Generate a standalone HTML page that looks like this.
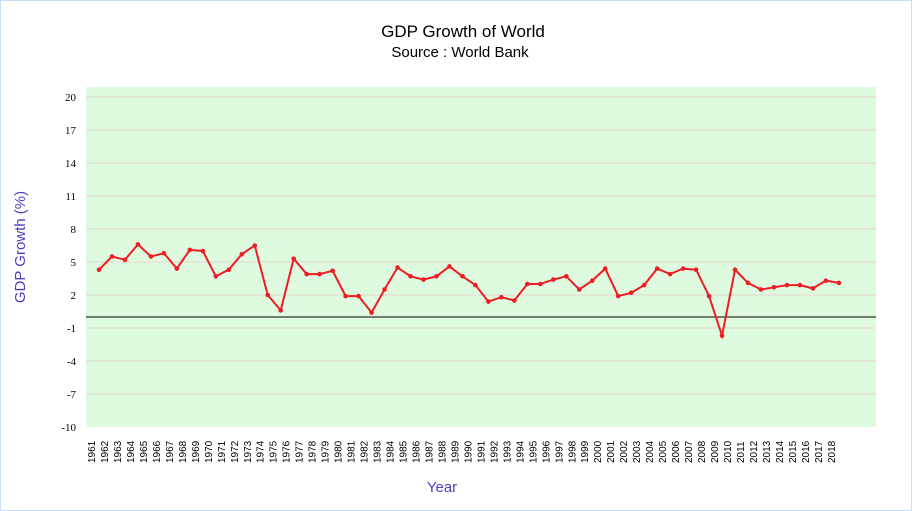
<!DOCTYPE html>
<html><head><meta charset="utf-8"><style>
html,body{margin:0;padding:0;background:#fff}
svg{display:block;font-family:"Liberation Sans",sans-serif}
</style></head><body>
<svg width="912" height="511" viewBox="0 0 912 511" xmlns="http://www.w3.org/2000/svg">
<rect x="0.5" y="0.5" width="911" height="510" fill="#fff" stroke="#c9def5" stroke-width="1"/>
<text x="463" y="37" text-anchor="middle" font-size="17" fill="#000">GDP Growth of World</text>
<text x="460" y="57" text-anchor="middle" font-size="15" fill="#000">Source : World Bank</text>
<rect x="86" y="87" width="790" height="340" fill="#dffbdf"/>
<g id="grid" stroke="#e3d6cc" stroke-width="1"></g>
<line x1="86" y1="317" x2="876" y2="317" stroke="#000" stroke-width="1"/>
<g id="yl" font-size="11" fill="#000" text-anchor="end" font-family="Liberation Serif, serif"></g>
<g id="xl" font-size="10" fill="#000"></g>
<text transform="translate(25,247) rotate(-90)" text-anchor="middle" font-size="15" fill="#4b3fbf">GDP Growth (%)</text>
<text x="442" y="492" text-anchor="middle" font-size="15" fill="#4b3fbf">Year</text>
<polyline id="line" fill="none" stroke="#ee1c25" stroke-width="2"/>
<g id="pts" fill="#ee1c25"></g>
</svg>
<script>
var ns="http://www.w3.org/2000/svg";
var v=[4.3,5.5,5.2,6.6,5.5,5.8,4.4,6.1,6.0,3.7,4.3,5.7,6.5,2.0,0.6,5.3,3.9,3.9,4.2,1.9,1.9,0.4,2.5,4.5,3.7,3.4,3.7,4.6,3.7,2.9,1.4,1.8,1.5,3.0,3.0,3.4,3.7,2.5,3.3,4.4,1.9,2.2,2.9,4.4,3.9,4.4,4.3,1.9,-1.7,4.3,3.1,2.5,2.7,2.9,2.9,2.6,3.3,3.1];
function Y(val){return 317-val*11;}
function X(i){return 99+i*12.98;}
var g=document.getElementById("grid"),yl=document.getElementById("yl");
for(var t=20;t>=-10;t-=3){var y=Y(t);
 if(t!==-10){var l=document.createElementNS(ns,"line");l.setAttribute("x1",86);l.setAttribute("x2",876);l.setAttribute("y1",y);l.setAttribute("y2",y);g.appendChild(l);}
 var tx=document.createElementNS(ns,"text");tx.setAttribute("x",76);tx.setAttribute("y",y+4);tx.textContent=t;yl.appendChild(tx);}
var xl=document.getElementById("xl"),pts=document.getElementById("pts"),s="";
for(var i=0;i<v.length;i++){var x=X(i),y=Y(v[i]);s+=x+","+y+" ";
 var c=document.createElementNS(ns,"circle");c.setAttribute("cx",x);c.setAttribute("cy",y);c.setAttribute("r",2.3);pts.appendChild(c);
 var tx=document.createElementNS(ns,"text");tx.setAttribute("transform","translate("+(x-4)+",463) rotate(-90)");tx.textContent=1961+i;xl.appendChild(tx);}
document.getElementById("line").setAttribute("points",s);
</script>
</body></html>
